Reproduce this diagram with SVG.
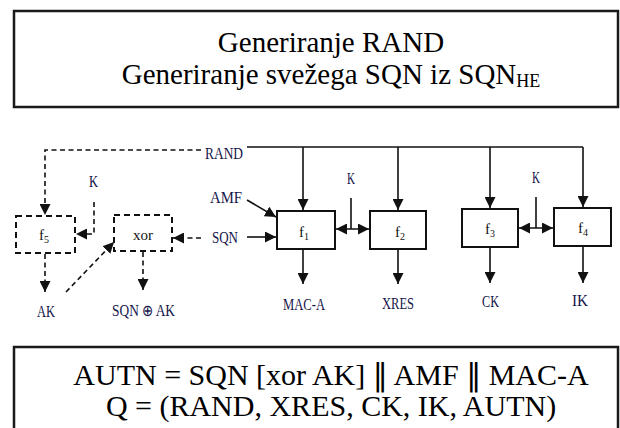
<svg xmlns="http://www.w3.org/2000/svg" width="620" height="428" viewBox="0 0 620 428">
<style>
.frame{fill:#fff;stroke:#1a1a1a;stroke-width:2.5}
.box{fill:#fff;stroke:#111;stroke-width:2}
.dbox{fill:#fff;stroke:#111;stroke-width:2;stroke-dasharray:6,4}
.ln{fill:none;stroke:#111;stroke-width:1.6}
.dl{fill:none;stroke:#111;stroke-width:1.6;stroke-dasharray:5,3.5}
.big{fill:#000}
.lbl{font-size:16px;fill:#15154a}
.fn{font-size:15px;fill:#111;text-anchor:middle}
.bar{font-family:"DejaVu Sans",sans-serif}
</style>
<defs>
<marker id="ah" markerUnits="userSpaceOnUse" markerWidth="11" markerHeight="11" refX="10" refY="5" orient="auto-start-reverse" viewBox="0 0 10 10">
<path d="M0,0 L10,5 L0,10 z" fill="#111"/>
</marker>
</defs>

<g id="header" font-family="Liberation Serif, Tinos, Times New Roman, serif">
<rect class="frame" x="14" y="11" width="604" height="96"/>
<text class="big" x="331" y="52" font-size="29" text-anchor="middle">Generiranje RAND</text>
<text class="big" x="331" y="84" font-size="29" text-anchor="middle">Generiranje svežega SQN iz SQN<tspan font-size="18" dy="3">HE</tspan></text>
</g>

<g id="connectors">
<path class="ln" d="M247,147 H583"/>
<path class="ln" d="M303,147 V210" marker-end="url(#ah)"/>
<path class="ln" d="M398,147 V210" marker-end="url(#ah)"/>
<path class="ln" d="M490,147 V208" marker-end="url(#ah)"/>
<path class="ln" d="M583,147 V207" marker-end="url(#ah)"/>
<path class="dl" d="M201,150 H45 V215" marker-end="url(#ah)"/>
<path class="dl" d="M94,202 V234 H76" marker-end="url(#ah)"/>
<path class="dl" d="M201,238 H173" marker-end="url(#ah)"/>
<path class="dl" d="M45,254 V292" marker-end="url(#ah)"/>
<path class="dl" d="M143,252 V290" marker-end="url(#ah)"/>
<path class="dl" d="M66,292 L114,242" marker-end="url(#ah)"/>
<path class="ln" d="M247,200 L276,217" marker-end="url(#ah)"/>
<path class="ln" d="M247,237 H276" marker-end="url(#ah)"/>
<path class="ln" d="M351,198 V229"/>
<path class="ln" d="M336,229 H369" marker-start="url(#ah)" marker-end="url(#ah)"/>
<path class="ln" d="M536,197 V228"/>
<path class="ln" d="M519,228 H553" marker-start="url(#ah)" marker-end="url(#ah)"/>
<path class="ln" d="M303,250 V284" marker-end="url(#ah)"/>
<path class="ln" d="M398,250 V284" marker-end="url(#ah)"/>
<path class="ln" d="M490,248 V283" marker-end="url(#ah)"/>
<path class="ln" d="M583,247 V283" marker-end="url(#ah)"/>
</g>

<g font-family="Liberation Serif, Tinos, Times New Roman, serif">
<g id="f5">
<rect class="dbox" x="16" y="216" width="59" height="37"/>
<text class="fn" x="44" y="240">f<tspan font-size="10" dy="3">5</tspan></text>
</g>
<g id="xor">
<rect class="dbox" x="114" y="215" width="58" height="36"/>
<text class="fn" x="143" y="240">xor</text>
</g>
<g id="f1">
<rect class="box" x="277" y="211" width="58" height="38"/>
<text class="fn" x="304" y="237">f<tspan font-size="10" dy="3">1</tspan></text>
</g>
<g id="f2">
<rect class="box" x="370" y="211" width="56" height="38"/>
<text class="fn" x="400" y="237">f<tspan font-size="10" dy="3">2</tspan></text>
</g>
<g id="f3">
<rect class="box" x="462" y="209" width="56" height="38"/>
<text class="fn" x="490" y="234">f<tspan font-size="10" dy="3">3</tspan></text>
</g>
<g id="f4">
<rect class="box" x="554" y="208" width="57" height="38"/>
<text class="fn" x="583" y="233">f<tspan font-size="10" dy="3">4</tspan></text>
</g>

<g id="labels">
<text class="lbl" x="205" y="159" textLength="38" lengthAdjust="spacingAndGlyphs">RAND</text>
<text class="lbl" x="89" y="187" textLength="9" lengthAdjust="spacingAndGlyphs">K</text>
<text class="lbl" x="210" y="203" textLength="32" lengthAdjust="spacingAndGlyphs">AMF</text>
<text class="lbl" x="212" y="243" textLength="26" lengthAdjust="spacingAndGlyphs">SQN</text>
<text class="lbl" x="347" y="184" textLength="8" lengthAdjust="spacingAndGlyphs">K</text>
<text class="lbl" x="532" y="183" textLength="8" lengthAdjust="spacingAndGlyphs">K</text>
<text class="lbl" x="37" y="317" textLength="18" lengthAdjust="spacingAndGlyphs">AK</text>
<text class="lbl" x="112" y="316" textLength="63" lengthAdjust="spacingAndGlyphs">SQN ⊕ AK</text>
<text class="lbl" x="283" y="310" textLength="42" lengthAdjust="spacingAndGlyphs">MAC-A</text>
<text class="lbl" x="382" y="309" textLength="32" lengthAdjust="spacingAndGlyphs">XRES</text>
<text class="lbl" x="482" y="307" textLength="17" lengthAdjust="spacingAndGlyphs">CK</text>
<text class="lbl" x="572" y="306" textLength="16" lengthAdjust="spacingAndGlyphs">IK</text>
</g>

<g id="result">
<rect class="frame" x="14" y="347" width="604" height="100"/>
<text class="big" x="331" y="385" font-size="30" text-anchor="middle">AUTN = SQN [xor AK] <tspan class="bar">‖</tspan> AMF <tspan class="bar">‖</tspan> MAC-A</text>
<text class="big" x="331" y="416" font-size="30" text-anchor="middle">Q = (RAND, XRES, CK, IK, AUTN)</text>
</g>
</g>
</svg>
